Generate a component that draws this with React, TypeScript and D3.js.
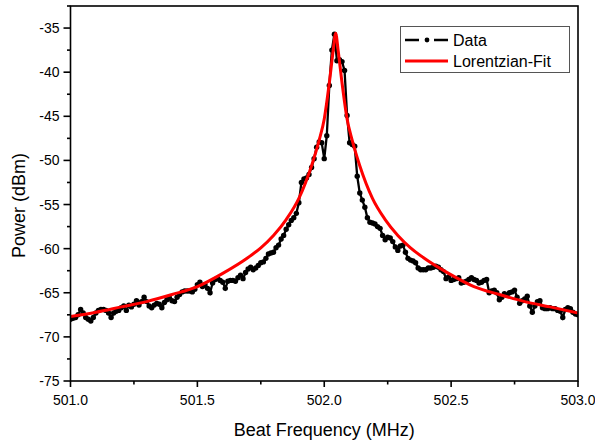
import React from 'react'
import * as d3 from 'd3'

// measured spectrum, 501.00 .. 503.00 MHz, one sample every 0.01 MHz
const freqStart = 501.0
const freqStep = 0.01
const power = [
	-68.0, -67.9, -67.8, -67.5, -66.9, -67.3, -67.8, -68.0, -68.2, -67.8,
	-67.3, -67.0, -66.9, -66.9, -67.0, -67.3, -67.8, -67.3, -67.1, -67.0,
	-66.7, -66.5, -67.0, -66.4, -66.6, -66.3, -65.9, -66.4, -66.0, -65.5,
	-66.0, -66.5, -66.7, -66.4, -66.2, -66.3, -66.7, -66.1, -65.8, -65.6,
	-65.9, -66.0, -65.5, -65.2, -64.9, -64.8, -64.8, -64.8, -64.9, -64.6,
	-64.1, -63.8, -64.3, -64.1, -64.5, -65.0, -63.9, -63.5, -63.4, -63.6,
	-63.8, -64.5, -63.7, -63.6, -63.6, -63.7, -63.3, -63.0, -63.4, -62.7,
	-62.3, -62.1, -62.4, -62.2, -61.9, -61.6, -61.5, -61.1, -60.6, -60.5,
	-60.4, -59.9, -59.6, -58.9, -58.5, -57.8, -57.3, -56.8, -56.5, -56.0,
	-54.8, -52.5, -52.1, -52.0, -51.6, -50.8, -49.8, -48.5, -47.9, -48.0,
	-49.8, -47.2, -41.5, -37.5, -35.7, -38.7, -38.6, -38.8, -39.8, -44.9,
	-48.0, -48.2, -48.4, -51.8, -53.7, -54.5, -55.3, -56.5, -57.0, -57.1,
	-57.2, -57.5, -57.7, -58.5, -59.0, -58.7, -58.8, -59.2, -59.8, -60.2,
	-59.7, -59.6, -60.4, -61.1, -61.3, -61.4, -61.6, -62.2, -62.4, -62.4,
	-62.4, -62.2, -62.2, -62.1, -62.0, -62.1, -62.4, -62.6, -63.4, -63.2,
	-63.6, -63.5, -63.4, -63.3, -63.9, -63.8, -63.7, -63.5, -63.3, -63.5,
	-63.6, -63.9, -63.8, -63.6, -63.5, -65.0, -64.8, -64.7, -65.0, -65.8,
	-65.5, -65.1, -65.3, -65.0, -64.9, -64.7, -65.5, -66.2, -65.9, -65.7,
	-65.4, -66.5, -67.2, -66.5, -66.0, -65.9, -66.7, -66.8, -66.8, -66.7,
	-66.8, -66.8, -67.0, -67.1, -67.8, -66.9, -66.7, -66.8, -67.2, -67.4,
	-67.5,
]

// Lorentzian fit curve
const fitFreq = [
	501.0, 501.1, 501.2, 501.3, 501.4, 501.5, 501.6, 501.7, 501.75, 501.8,
	501.85, 501.9, 501.95, 501.98, 502.0, 502.02, 502.035, 502.045, 502.055, 502.07,
	502.09, 502.11, 502.14, 502.19, 502.24, 502.29, 502.34, 502.39, 502.49, 502.59,
	502.69, 502.79, 502.89, 503.0,
]
const fitPower = [
	-67.7, -67.2, -66.6, -66.0, -65.2, -64.3, -62.8, -61.0, -59.9, -58.5,
	-56.7, -54.3, -50.6, -47.7, -45.3, -41.2, -37.6, -35.6, -37.6, -41.2,
	-45.3, -47.7, -50.6, -54.3, -56.7, -58.5, -59.9, -61.0, -62.8, -64.3,
	-65.2, -66.0, -66.6, -67.3,
]

const xTicks = [501.0, 501.5, 502.0, 502.5, 503.0]
const yTicks = [-75, -70, -65, -60, -55, -50, -45, -40, -35]
const legendLabels = ['Data', 'Lorentzian-Fit']

const font = '"Liberation Sans", Arial, sans-serif'

export default function App() {
	const width = 595
	const height = 443
	const left = 70.5
	const right = 578
	const top = 6
	const bottom = 381

	const x = d3.scaleLinear().domain([501.0, 503.0]).range([left, right])
	const y = d3.scaleLinear().domain([-75, -32.5]).range([bottom, top])

	const data = power.map((p, i) => ({ f: freqStart + i * freqStep, p }))
	const fit = fitFreq.map((f, i) => ({ f, p: fitPower[i] }))

	const dataLine = d3.line<{ f: number; p: number }>()
		.x(d => x(d.f))
		.y(d => y(d.p))
	const fitLine = d3.line<{ f: number; p: number }>()
		.curve(d3.curveMonotoneX)
		.x(d => x(d.f))
		.y(d => y(d.p))

	const xMinor = d3.range(501.25, 503, 0.5)
	const yMinor = d3.range(-72.5, -32, 5)

	return (
		<svg
			width={width}
			height={height}
			style={{ position: 'absolute', left: 0, top: 0, background: '#fff' }}
			fontFamily={font}
		>
			<defs>
				<clipPath id="plot">
					<rect x={left} y={top} width={right - left} height={bottom - top} />
				</clipPath>
			</defs>

			<g clipPath="url(#plot)">
				<path d={dataLine(data) || ''} fill="none" stroke="#000" strokeWidth={2.3} />
				{data.map((d, i) => (
					<circle key={i} cx={x(d.f)} cy={y(d.p)} r={2.7} fill="#000" />
				))}
				<path d={fitLine(fit) || ''} fill="none" stroke="#f00" strokeWidth={3} />
			</g>

			{/* frame */}
			<rect x={left} y={top} width={right - left} height={bottom - top}
				fill="none" stroke="#000" strokeWidth={1.6} />

			{/* x axis */}
			{xTicks.map(t => (
				<g key={t}>
					<line x1={x(t)} x2={x(t)} y1={bottom} y2={bottom + 6} stroke="#000" strokeWidth={1.6} />
					<text x={x(t)} y={bottom + 24} textAnchor="middle" fontSize={14}>{t.toFixed(1)}</text>
				</g>
			))}
			{xMinor.map(t => (
				<line key={t} x1={x(t)} x2={x(t)} y1={bottom} y2={bottom + 3.5} stroke="#000" strokeWidth={1.6} />
			))}

			{/* y axis */}
			{yTicks.map(t => (
				<g key={t}>
					<line x1={left - 7} x2={left} y1={y(t)} y2={y(t)} stroke="#000" strokeWidth={1.6} />
					<text x={left - 11} y={y(t) + 5} textAnchor="end" fontSize={14}>{t}</text>
				</g>
			))}
			{yMinor.map(t => (
				<line key={t} x1={left - 3.5} x2={left} y1={y(t)} y2={y(t)} stroke="#000" strokeWidth={1.6} />
			))}

			<text x={(left + right) / 2} y={436} textAnchor="middle" fontSize={18}>Beat Frequency (MHz)</text>
			<text transform={`translate(25,${(top + bottom) / 2 + 12}) rotate(-90)`} textAnchor="middle" fontSize={18}>Power (dBm)</text>

			{/* legend */}
			<g>
				<rect x={400.5} y={26.5} width={169} height={46} fill="#fff" stroke="#555" strokeWidth={1} />
				<line x1={405} x2={419} y1={40} y2={40} stroke="#000" strokeWidth={2.5} />
				<circle cx={427} cy={40} r={2.4} fill="#000" />
				<line x1={434} x2={448} y1={40} y2={40} stroke="#000" strokeWidth={2.5} />
				<text x={453} y={46} fontSize={16}>{legendLabels[0]}</text>
				<line x1={405} x2={448} y1={61} y2={61} stroke="#f00" strokeWidth={3} />
				<text x={453} y={67} fontSize={16}>{legendLabels[1]}</text>
			</g>
		</svg>
	)
}
